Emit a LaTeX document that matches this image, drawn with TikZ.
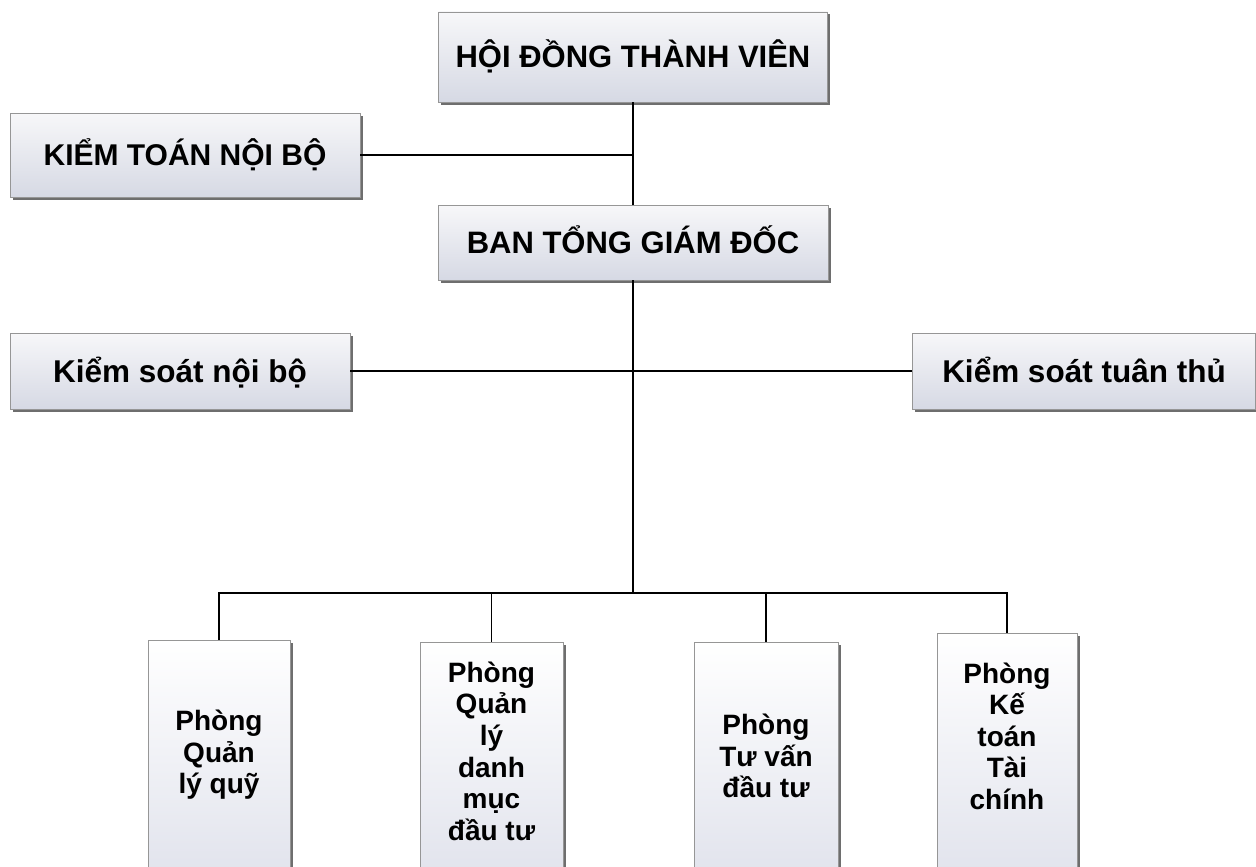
\documentclass[tikz,border=0pt]{standalone}
\usepackage{fontspec}
\setmainfont{Liberation Sans}
\usetikzlibrary{shadows}
\definecolor{boxtop}{RGB}{247,247,249}
\definecolor{boxbot}{RGB}{214,217,228}
\definecolor{tallbot}{RGB}{226,228,237}
\definecolor{boxline}{RGB}{150,150,150}
\definecolor{shadowc}{RGB}{110,110,110}
\begin{document}
\begin{tikzpicture}[x=1pt,y=-1pt,
  orgbox/.style={draw=boxline, line width=0.8pt, top color=boxtop, bottom color=boxbot,
    inner sep=0pt, align=center,
    drop shadow={shadow xshift=2.5pt, shadow yshift=-2.5pt, fill=shadowc, opacity=1}},
  tallbox/.style={orgbox, top color=white, bottom color=tallbot},
  bigtext/.style={font=\bfseries\fontsize{31}{36}\selectfont, text height=22pt, text depth=0pt},
  midtext/.style={font=\bfseries\fontsize{30}{35}\selectfont, text height=21.5pt, text depth=0pt},
  lowtext/.style={font=\bfseries\fontsize{31.5}{36}\selectfont, text height=22.5pt, text depth=0pt},
  smalltext/.style={font=\bfseries\fontsize{28}{31.6}\selectfont},
  link/.style={line width=1.3pt, black}]
\clip (0,0) rectangle (1256,867);
\fill[white] (0,0) rectangle (1256,867);

\node[orgbox, bigtext, minimum width=389pt, minimum height=90pt] (hdtv) at (633,57) {HỘI ĐỒNG THÀNH VIÊN};
\node[orgbox, midtext, minimum width=350pt, minimum height=84pt] (ktnb) at (185,155) {KIỂM TOÁN NỘI BỘ};
\node[orgbox, bigtext, minimum width=390pt, minimum height=75pt] (btgd) at (633,242.5) {BAN TỔNG GIÁM ĐỐC};
\node[orgbox, lowtext, minimum width=340pt, minimum height=76pt] (ksnb) at (180,371) {Kiểm soát nội bộ};
\node[orgbox, lowtext, minimum width=343pt, minimum height=76pt] (kstt) at (1084,371) {Kiểm soát tuân thủ};

\node[tallbox, smalltext, minimum width=142pt, minimum height=230pt] (p1) at (219,755) {Phòng\\Quản\\lý quỹ};
\node[tallbox, smalltext, minimum width=143pt, minimum height=228pt, text depth=10pt] (p2) at (491.5,756) {Phòng\\Quản\\lý\\danh\\mục\\đầu tư};
\node[tallbox, smalltext, minimum width=144pt, minimum height=228pt] (p3) at (766,756) {Phòng\\Tư vấn\\đầu tư};
\node[tallbox, smalltext, minimum width=140pt, minimum height=237pt, text depth=31pt] (p4) at (1007,751.5) {Phòng\\Kế\\toán\\Tài\\chính};

\coordinate (bus) at (633,593);

\draw[link] (hdtv.south) -- (btgd.north);
\draw[link] (ktnb.east) -- (ktnb.east -| hdtv.south);
\draw[link] (ksnb.east) -- (kstt.west);
\draw[link] (btgd.south) -- (bus);
\draw[link] (p1.north) |- (p4.north |- bus) -- (p4.north);
\draw[link] (p2.north) -- (p2.north |- bus);
\draw[link] (p3.north) -- (p3.north |- bus);
\end{tikzpicture}
\end{document}
